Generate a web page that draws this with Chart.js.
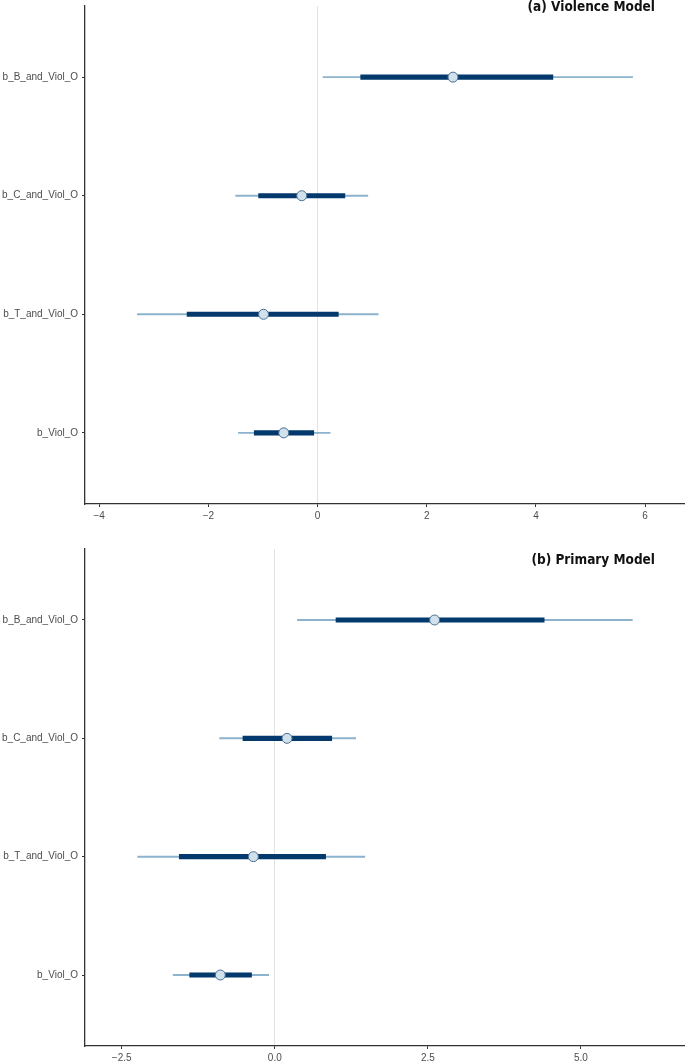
<!DOCTYPE html>
<html>
<head>
<meta charset="utf-8">
<script src="https://cdn.jsdelivr.net/npm/chart.js@4/dist/chart.umd.min.js"></script>
<style>
  html, body { margin: 0; padding: 0; background: #fff; overflow: hidden; }
  #wrap { position: relative; width: 685px; height: 1063px; }
  canvas { position: absolute; left: 0; }
</style>
</head>
<body>
<div id="wrap">
  <canvas id="violChart" width="685" height="530" style="top:0"></canvas>
  <canvas id="primChart" width="685" height="528" style="top:535px"></canvas>
</div>
<script>
// parameter names, top to bottom
const params = ["b_B_and_Viol_O", "b_C_and_Viol_O", "b_T_and_Viol_O", "b_Viol_O"];

// (a) Violence Model
const violMed     = [2.48, -0.29, -0.99, -0.62];
const violInnerLo = [0.79, -1.08, -2.39, -1.16];
const violInnerHi = [4.31, 0.50, 0.38, -0.07];
const violOuterLo = [0.10, -1.50, -3.30, -1.45];
const violOuterHi = [5.77, 0.92, 1.11, 0.23];
const violTicks   = [-4, -2, 0, 2, 4, 6];

// (b) Primary Model
const primMed     = [2.61, 0.20, -0.35, -0.89];
const primInnerLo = [1.00, -0.52, -1.56, -1.39];
const primInnerHi = [4.40, 0.93, 0.83, -0.38];
const primOuterLo = [0.37, -0.90, -2.24, -1.66];
const primOuterHi = [5.84, 1.32, 1.47, -0.10];
const primTicks   = [-2.5, 0, 2.5, 5];

const colors = { outer: "#8cb2cc", inner: "#03396c", pointFill: "#d1e1ec", pointLine: "#4a6f91", axis: "#333333", text: "#4d4d4d", zero: "#e3e3e3" };

document.addEventListener("DOMContentLoaded", function () {
    const rowY = i => params.length - i;   // first parameter on top

    const panelTitle = {
        id: "panelTitle",
        afterDraw(chart, args, opts) {
            const ctx = chart.ctx;
            ctx.save();
            ctx.font = "bold 13.5px 'Liberation Sans Narrow', 'DejaVu Sans Condensed', sans-serif";
            ctx.fillStyle = "#111";
            ctx.textAlign = "right";
            ctx.textBaseline = "middle";
            ctx.fillText(opts.text, opts.x, opts.y);
            ctx.restore();
        }
    };

    function makeChart(id, med, inLo, inHi, outLo, outHi, ticks, xmin, xmax, fmt, title, pad, xAxisH, titleY) {
        const outer = params.map((p, i) => ({ x: [outLo[i], outHi[i]], y: rowY(i) }));
        const inner = params.map((p, i) => ({ x: [inLo[i], inHi[i]], y: rowY(i) }));
        const pts = params.map((p, i) => ({ x: med[i], y: rowY(i) }));

        return new Chart(document.getElementById(id), {
            type: "bar",
            data: {
                datasets: [
                    { type: "scatter", data: pts, order: 0, pointRadius: 5, pointHoverRadius: 5,
                      pointBackgroundColor: colors.pointFill, pointBorderColor: colors.pointLine, pointBorderWidth: 1 },
                    { data: inner, order: 1, grouped: false, barThickness: 4.5, backgroundColor: colors.inner, borderWidth: 0 },
                    { data: outer, order: 2, grouped: false, barThickness: 1.3, backgroundColor: colors.outer, borderWidth: 0 }
                ]
            },
            options: {
                indexAxis: "y",
                responsive: false,
                animation: false,
                layout: { autoPadding: false, padding: { top: pad, right: 0, left: 0, bottom: 0 } },
                plugins: {
                    legend: { display: false },
                    tooltip: { enabled: false },
                    panelTitle: { text: title, x: 655, y: titleY }
                },
                scales: {
                    x: {
                        type: "linear",
                        offset: false,
                        min: xmin,
                        max: xmax,
                        afterBuildTicks: s => { s.ticks = ticks.map(v => ({ value: v })); },
                        afterFit: s => { s.height = xAxisH; s.paddingLeft = 0; s.paddingRight = 0; },
                        border: { color: colors.axis, width: 1.3 },
                        grid: {
                            offset: false,
                            color: c => (c.tick && c.tick.value === 0 ? colors.zero : "rgba(0,0,0,0)"),
                            lineWidth: 1,
                            tickColor: colors.axis,
                            tickLength: 3
                        },
                        ticks: {
                            color: colors.text,
                            font: { family: "'Liberation Sans', Arial, sans-serif", size: 10 },
                            padding: 3,
                            callback: v => fmt(v).replace("-", "\u2212")
                        }
                    },
                    y: {
                        type: "linear",
                        offset: false,
                        min: 0.4,
                        max: 4.6,
                        afterBuildTicks: s => { s.ticks = params.map((p, i) => ({ value: rowY(i) })); },
                        afterFit: s => { s.width = 85; s.paddingTop = 0; s.paddingBottom = 0; },
                        border: { color: colors.axis, width: 1.3 },
                        grid: { offset: false, drawOnChartArea: false, tickColor: colors.axis, tickLength: 3 },
                        ticks: {
                            color: colors.text,
                            font: { family: "'Liberation Sans', Arial, sans-serif", size: 10 },
                            padding: 4,
                            callback: v => params[params.length - v]
                        }
                    }
                }
            },
            plugins: [panelTitle]
        });
    }

    makeChart("violChart", violMed, violInnerLo, violInnerHi, violOuterLo, violOuterHi, violTicks,
        -4.26, 6.73, v => String(v), "(a) Violence Model", 6, 26, 7);
    makeChart("primChart", primMed, primInnerLo, primInnerHi, primOuterLo, primOuterHi, primTicks,
        -3.10, 6.70, v => v.toFixed(1), "(b) Primary Model", 14, 17, 25);
});
</script>
</body>
</html>
